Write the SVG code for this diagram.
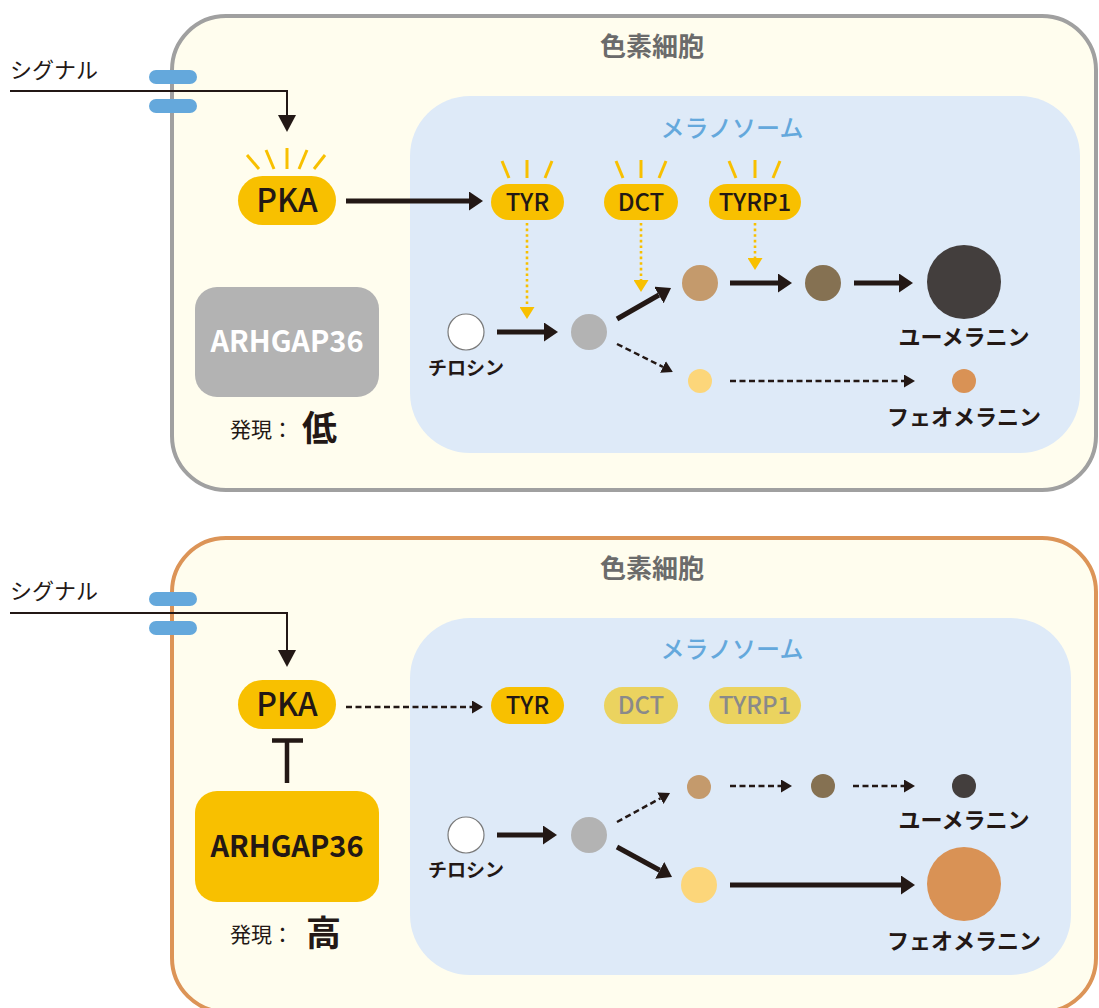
<svg xmlns="http://www.w3.org/2000/svg" width="1099" height="1008" viewBox="0 0 1099 1008">
<defs>
<style>
.cell{fill:#fffdee;stroke-width:4}
.mel{fill:#deeaf8}
.rcp{fill:#64a8dc}
.sig{fill:none;stroke:#231815;stroke-width:2}
.yel{fill:#f8c000}
.fade{fill:#ebd35f}
.ray{stroke:#f8c000;stroke-width:3;fill:none}
.dot{stroke:#f8c000;stroke-width:2.6;stroke-dasharray:2.6 3;fill:none}
.thick{stroke:#231815;stroke-width:5;fill:none}
.dash{stroke:#231815;stroke-width:2.5;stroke-dasharray:6 3.5;fill:none}
text{font-family:"Noto Sans CJK JP","Noto Sans",sans-serif;fill:#231815}
.t-cell{font-size:26px;font-weight:700;fill:#6b6b6b;text-anchor:middle}
.t-mel{font-size:24px;font-weight:500;fill:#64a8dc;text-anchor:middle}
.t-sig{font-size:22px;font-weight:400}
.t-pka{font-size:32px;font-weight:500;text-anchor:middle}
.t-enz{font-size:24px;font-weight:500;text-anchor:middle}
.t-enzf{font-size:24px;font-weight:500;text-anchor:middle;fill:#8a8a8a}
.t-arh{font-size:29px;font-weight:700;text-anchor:middle}
.t-lbl{font-size:19px;font-weight:700;text-anchor:middle}
.t-mlb{font-size:22px;font-weight:700;text-anchor:middle}
.t-exp{font-size:21px;font-weight:400}
.t-lvl{font-size:35px;font-weight:700}
</style>
<marker id="ahT" viewBox="0 0 14 19" refX="0" refY="9.5" markerWidth="14" markerHeight="19" markerUnits="userSpaceOnUse" orient="auto"><path d="M0,0 L14,9.5 L0,19 Z" fill="#231815"/></marker>
<marker id="ahD" viewBox="0 0 11 13" refX="0" refY="6.5" markerWidth="11" markerHeight="13" markerUnits="userSpaceOnUse" orient="auto"><path d="M0,0 L11,6.5 L0,13 Z" fill="#231815"/></marker>
<marker id="ahS" viewBox="0 0 17 18" refX="0" refY="9" markerWidth="17" markerHeight="18" markerUnits="userSpaceOnUse" orient="auto"><path d="M0,0 L17,9 L0,18 Z" fill="#231815"/></marker>
<marker id="ahY" viewBox="0 0 12 15" refX="0" refY="7.5" markerWidth="12" markerHeight="15" markerUnits="userSpaceOnUse" orient="auto"><path d="M0,0 L12,7.5 L0,15 Z" fill="#f8c000"/></marker>
</defs>

<!-- ===== TOP PANEL ===== -->
<g id="cell-top">
<rect class="cell" x="172" y="16" width="924" height="474" rx="54" stroke="#a0a0a0"/>
<text class="t-cell" x="652" y="56">色素細胞</text>
</g>
<g id="melanosome-top">
<rect class="mel" x="410" y="96" width="670" height="357" rx="60"/>
<text class="t-mel" x="732" y="137">メラノソーム</text>
</g>
<g id="receptor-top">
<rect class="rcp" x="149" y="70" width="48" height="14" rx="7"/>
<rect class="rcp" x="149" y="99" width="48" height="14" rx="7"/>
</g>
<g id="signal-top"><text class="t-sig" x="10" y="78">シグナル</text></g>
<g id="pka-top">
<rect class="yel" x="238" y="176" width="98" height="49" rx="24.5"/>
<text class="t-pka" x="287" y="212">PKA</text>
<g class="ray"><line x1="247" y1="155" x2="259" y2="169"/><line x1="266" y1="150" x2="274" y2="169"/><line x1="287" y1="148" x2="287" y2="169"/><line x1="307" y1="150" x2="299" y2="169"/><line x1="325" y1="155" x2="314" y2="169"/></g>
</g>
<g id="tyr-top">
<rect class="yel" x="491" y="184" width="73" height="36" rx="18"/>
<text class="t-enz" x="527.5" y="211">TYR</text>
<g class="ray"><line x1="502" y1="161" x2="509" y2="178"/><line x1="527" y1="160" x2="527" y2="178"/><line x1="552" y1="161" x2="545" y2="178"/></g>
</g>
<g id="dct-top">
<rect class="yel" x="604" y="184" width="74" height="36" rx="18"/>
<text class="t-enz" x="641" y="211">DCT</text>
<g class="ray"><line x1="616" y1="161" x2="623" y2="178"/><line x1="641" y1="160" x2="641" y2="178"/><line x1="666" y1="161" x2="659" y2="178"/></g>
</g>
<g id="tyrp1-top">
<rect class="yel" x="709" y="184" width="92" height="36" rx="18"/>
<text class="t-enz" x="755" y="211">TYRP1</text>
<g class="ray"><line x1="729" y1="161" x2="736" y2="178"/><line x1="755" y1="160" x2="755" y2="178"/><line x1="780" y1="161" x2="773" y2="178"/></g>
</g>
<g id="arhgap36-top">
<rect x="195" y="287" width="184" height="110" rx="22" fill="#b3b3b3"/>
<text class="t-arh" x="287" y="352" style="fill:#ffffff">ARHGAP36</text>
<text class="t-exp" x="230" y="437">発現：</text>
<text class="t-lvl" x="302" y="441">低</text>
</g>
<g id="tyrosine-top">
<circle cx="466" cy="332" r="18" fill="#ffffff" stroke="#7a7a7a" stroke-width="1.2"/>
<text class="t-lbl" x="466" y="375">チロシン</text>
</g>
<g id="inter-top"><circle cx="589" cy="332" r="18" fill="#b3b3b3"/></g>
<g id="tan-top"><circle cx="700" cy="283" r="18" fill="#c49a6c"/></g>
<g id="olive-top"><circle cx="823" cy="283" r="18" fill="#857152"/></g>
<g id="eumelanin-top">
<circle cx="964" cy="282" r="37" fill="#433e3d"/>
<text class="t-mlb" x="964" y="345">ユーメラニン</text>
</g>
<g id="yellow-top"><circle cx="700" cy="381" r="12" fill="#fcd67a"/></g>
<g id="pheomelanin-top">
<circle cx="964" cy="381" r="12" fill="#d99255"/>
<text class="t-mlb" x="964" y="425">フェオメラニン</text>
</g>

<!-- ===== BOTTOM PANEL ===== -->
<g id="cell-bottom">
<rect class="cell" x="172" y="538" width="924" height="474" rx="54" stroke="#dc9457"/>
<text class="t-cell" x="652" y="578">色素細胞</text>
</g>
<g id="melanosome-bottom">
<rect class="mel" x="410" y="618" width="661" height="357" rx="60"/>
<text class="t-mel" x="732" y="658">メラノソーム</text>
</g>
<g id="receptor-bottom">
<rect class="rcp" x="149" y="592" width="48" height="14" rx="7"/>
<rect class="rcp" x="149" y="621" width="48" height="14" rx="7"/>
</g>
<g id="signal-bottom"><text class="t-sig" x="10" y="599">シグナル</text></g>
<g id="pka-bottom">
<rect class="yel" x="238" y="680" width="98" height="49" rx="24.5"/>
<text class="t-pka" x="287" y="716">PKA</text>
</g>
<g id="tyr-bottom">
<rect class="yel" x="491" y="687" width="73" height="37" rx="18.5"/>
<text class="t-enz" x="527.5" y="714">TYR</text>
</g>
<g id="dct-bottom">
<rect class="fade" x="604" y="687" width="74" height="37" rx="18.5"/>
<text class="t-enzf" x="641" y="714">DCT</text>
</g>
<g id="tyrp1-bottom">
<rect class="fade" x="709" y="687" width="92" height="37" rx="18.5"/>
<text class="t-enzf" x="755" y="714">TYRP1</text>
</g>
<g id="arhgap36-bottom">
<rect class="yel" x="195" y="791" width="184" height="111" rx="22"/>
<text class="t-arh" x="287" y="857">ARHGAP36</text>
<text class="t-exp" x="230" y="942">発現：</text>
<text class="t-lvl" x="306" y="946">高</text>
</g>
<g id="tyrosine-bottom">
<circle cx="466" cy="835" r="18" fill="#ffffff" stroke="#7a7a7a" stroke-width="1.2"/>
<text class="t-lbl" x="466" y="877">チロシン</text>
</g>
<g id="inter-bottom"><circle cx="589" cy="835" r="18" fill="#b3b3b3"/></g>
<g id="tan-bottom"><circle cx="699" cy="787" r="12" fill="#c49a6c"/></g>
<g id="olive-bottom"><circle cx="823" cy="786" r="12" fill="#857152"/></g>
<g id="eumelanin-bottom">
<circle cx="964" cy="786" r="12" fill="#433e3d"/>
<text class="t-mlb" x="964" y="828">ユーメラニン</text>
</g>
<g id="yellow-bottom"><circle cx="699" cy="885" r="18" fill="#fcd67a"/></g>
<g id="pheomelanin-bottom">
<circle cx="964" cy="884" r="37" fill="#d99255"/>
<text class="t-mlb" x="964" y="949">フェオメラニン</text>
</g>

<!-- ===== CONNECTORS ===== -->
<g id="connectors">
<path class="sig" d="M10,91 H287 V115" marker-end="url(#ahS)"/>
<line class="thick" x1="346" y1="201" x2="469" y2="201" marker-end="url(#ahT)"/>
<line class="dot" x1="527" y1="223" x2="527" y2="307" marker-end="url(#ahY)"/>
<line class="dot" x1="641" y1="223" x2="641" y2="280" marker-end="url(#ahY)"/>
<line class="dot" x1="755" y1="223" x2="755" y2="258" marker-end="url(#ahY)"/>
<line class="thick" x1="497" y1="332" x2="544" y2="332" marker-end="url(#ahT)"/>
<line class="thick" x1="617" y1="319" x2="658.9" y2="295" marker-end="url(#ahT)"/>
<line class="thick" x1="730" y1="283" x2="778" y2="283" marker-end="url(#ahT)"/>
<line class="thick" x1="854" y1="283" x2="899" y2="283" marker-end="url(#ahT)"/>
<line class="dash" x1="617" y1="344" x2="663" y2="367" marker-end="url(#ahD)"/>
<line class="dash" x1="730" y1="381" x2="904" y2="381" marker-end="url(#ahD)"/>

<path class="sig" d="M10,613 H287 V650" marker-end="url(#ahS)"/>
<line class="dash" x1="346" y1="707" x2="472" y2="707" marker-end="url(#ahD)"/>
<path d="M287,742 V783 M272,740.5 H303" stroke="#231815" stroke-width="4.5" fill="none"/>
<line class="thick" x1="497" y1="835" x2="543" y2="835" marker-end="url(#ahT)"/>
<line class="dash" x1="617" y1="822" x2="660.4" y2="798.3" marker-end="url(#ahD)"/>
<line class="thick" x1="617" y1="847" x2="659.7" y2="870.3" marker-end="url(#ahT)"/>
<line class="dash" x1="730" y1="786" x2="781" y2="786" marker-end="url(#ahD)"/>
<line class="dash" x1="853" y1="786" x2="904" y2="786" marker-end="url(#ahD)"/>
<line class="thick" x1="730" y1="885" x2="901" y2="885" marker-end="url(#ahT)"/>
</g>
</svg>
